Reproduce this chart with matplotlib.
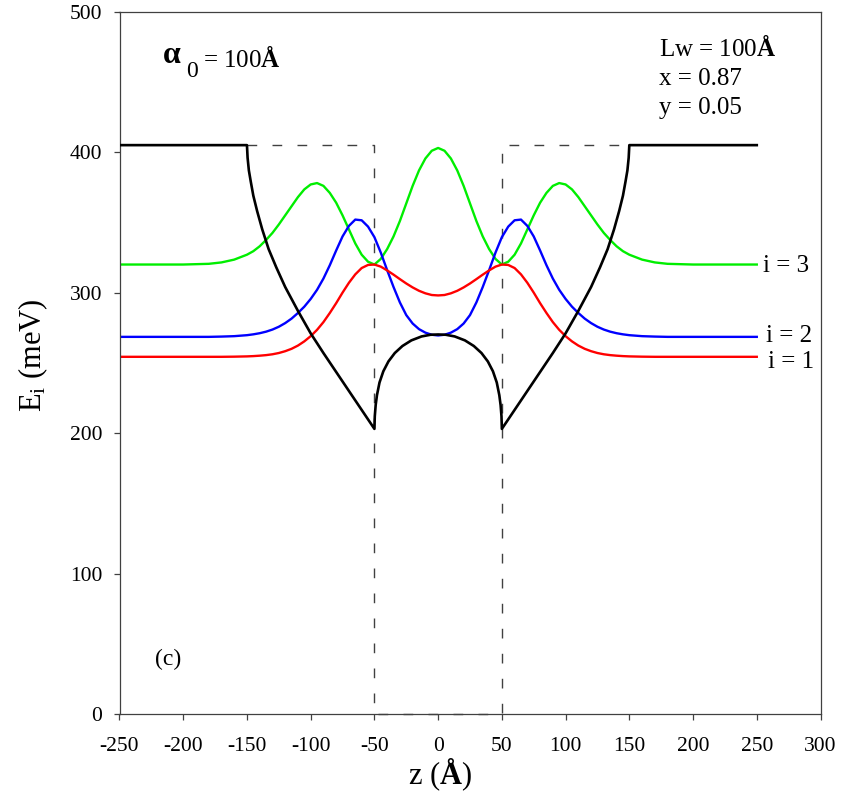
import matplotlib
matplotlib.use("Agg")
import matplotlib.pyplot as plt

plt.rcParams['font.family'] = ['Liberation Serif', 'DejaVu Serif']
plt.rcParams['mathtext.fontset'] = 'custom'
plt.rcParams['mathtext.rm'] = 'Liberation Serif'
plt.rcParams['mathtext.it'] = 'Liberation Serif:italic'
plt.rcParams['mathtext.bf'] = 'Liberation Serif:bold'
plt.rcParams['axes.unicode_minus'] = False

# ---------------- data ----------------
z_pot = [-250, -150, -149.5, -148.5, -147, -145, -142, -138, -133, -127, -120, -110, -100,
         -90, -80, -70, -60, -50, -49.7, -49, -48, -46, -43, -39, -34, -28, -21, -13, -6, 0,
         6, 13, 21, 28, 34, 39, 43, 46, 48, 49, 49.7, 50, 60, 70, 80, 90, 100, 110, 120,
         127, 133, 138, 142, 145, 147, 148.5, 149.5, 150, 250]
E_pot = [405, 405, 396, 387, 379, 369, 358, 345, 331, 318, 304, 287, 271,
         257, 243.5, 230, 216.5, 203, 212, 220, 227, 236, 244, 251, 257, 262, 266, 268.8, 270, 270.2,
         270, 268.8, 266, 262, 257, 251, 244, 236, 227, 220, 212, 203, 216.5, 230, 243.5, 257, 271, 287, 304,
         318, 331, 345, 358, 369, 379, 387, 396, 405, 405]

z_wf = [-250, -200, -180, -170, -160,
        -150, -145, -140, -135, -130, -125, -120, -115, -110, -105, -100, -95, -90, -85, -80, -75,
        -70, -65, -60, -55, -50, -45, -40, -35, -30, -25, -20, -15, -10, -5,
        0,
        5, 10, 15, 20, 25, 30, 35, 40, 45, 50, 55, 60, 65, 70, 75,
        80, 85, 90, 95, 100, 105, 110, 115, 120, 125, 130, 135, 140, 145, 150,
        160, 170, 180, 200, 250]

E_i1 = [254.3, 254.3, 254.3, 254.3, 254.4,
        254.6, 254.8, 255.1, 255.5, 256.1, 257, 258.3, 260, 262.3, 265.3, 269, 273.5, 279, 285.5, 292.5, 300,
        307, 313, 317.5, 319.7, 320, 318.5, 315.8, 312.8, 309.6, 306.5, 303.7, 301.3, 299.5, 298.3,
        298,
        298.3, 299.5, 301.3, 303.7, 306.5, 309.6, 312.8, 315.8, 318.5, 320, 319.7, 317.5, 313, 307, 300,
        292.5, 285.5, 279, 273.5, 269, 265.3, 262.3, 260, 258.3, 257, 256.1, 255.5, 255.1, 254.8, 254.6,
        254.4, 254.3, 254.3, 254.3, 254.3]

E_i2 = [268.5, 268.5, 268.5, 268.7, 269,
        269.7, 270.3, 271.1, 272.2, 273.7, 275.7, 278.3, 281.5, 285.5, 290, 295.5, 302, 310, 319.5, 330, 340,
        347.5, 352, 351.5, 347, 339.5, 328.5, 316, 304, 293, 284, 278, 274, 271.5, 270,
        269.5,
        270, 271.5, 274, 278, 284, 293, 304, 316, 328.5, 339.5, 347, 351.5, 352, 347.5, 340,
        330, 319.5, 310, 302, 295.5, 290, 285.5, 281.5, 278.3, 275.7, 273.7, 272.2, 271.1, 270.3, 269.7,
        269, 268.7, 268.5, 268.5, 268.5]

E_i3 = [320, 320, 320.5, 321.5, 323.5,
        327, 329.5, 333, 337.5, 342.5, 348.5, 355, 361.5, 368, 373.5, 377, 378, 376, 371, 364, 355,
        345, 335, 327, 322, 320, 324, 331, 340, 351, 363.5, 376, 387, 395.5, 401,
        403,
        401, 395.5, 387, 376, 363.5, 351, 340, 331, 324, 320, 322, 327, 335, 345, 355,
        364, 371, 376, 378, 377, 373.5, 368, 361.5, 355, 348.5, 342.5, 337.5, 333, 329.5, 327,
        323.5, 321.5, 320.5, 320, 320]

z_box = [-150, -50, -50, 50, 50, 150]
E_box = [405, 405, 0, 0, 405, 405]

level_labels = ["i = 3", "i = 2", "i = 1"]

x_ticks = [-250, -200, -150, -100, -50, 0, 50, 100, 150, 200, 250, 300]
y_ticks = [0, 100, 200, 300, 400, 500]

# ---------------- figure ----------------
W, H = 844, 798
fig = plt.figure(figsize=(W / 100, H / 100), dpi=100)
ax = fig.add_axes([119.5 / W, 84 / H, 701 / W, 702.3 / H])

spine_c = '#404040'
ax.plot(z_box, E_box, color='#404040', lw=1.0, dashes=(7, 11), clip_on=False, zorder=1)
ax.plot(z_wf, E_i3, color='#00ee00', lw=1.7, zorder=2)
ax.plot(z_wf, E_i2, color='#0000ff', lw=1.7, zorder=2)
ax.plot(z_wf, E_i1, color='#ff0000', lw=1.7, zorder=2)
ax.plot(z_pot, E_pot, color='black', lw=1.9, zorder=3)

ax.set_xlim(-250, 300)
ax.set_ylim(0, 500)
ax.set_xticks(x_ticks)
ax.set_yticks(y_ticks)
for s in ax.spines.values():
    s.set_color(spine_c)
    s.set_linewidth(0.9)
ax.tick_params(direction='out', length=4.5, width=0.9, color=spine_c, labelsize=15.5,
               labelcolor='black')
ax.tick_params(axis='y', pad=8)
ax.tick_params(axis='x', pad=12)


def ftxt(xpx, ypx, s, **kw):
    kw.setdefault('va', 'baseline')
    fig.text(xpx / W, 1 - ypx / H, s, **kw)


# axis labels
ftxt(440, 784, r'z ($\mathbf{Å}$)', ha='center', fontsize=22)
fig.text(33 / W, 1 - 355 / H, r'E$_{\rm i}$ (meV)', ha='center', va='center',
         rotation=90, fontsize=22)

# annotations
ftxt(163, 63, 'α', fontsize=23, fontweight='bold')
ftxt(186, 77, '0', fontsize=17)
ftxt(203, 67, r'= 100$\mathbf{Å}$', fontsize=18)

ftxt(659, 56, r'Lw = 100$\mathbf{Å}$', fontsize=18)
ftxt(659, 85, 'x = 0.87', fontsize=18)
ftxt(659, 114, 'y = 0.05', fontsize=18)

ftxt(155, 665, '(c)', fontsize=17)

ftxt(763, 272, level_labels[0], fontsize=18)
ftxt(766, 342, level_labels[1], fontsize=18)
ftxt(768, 368, level_labels[2], fontsize=18)

fig.savefig('out.png', dpi=100)
